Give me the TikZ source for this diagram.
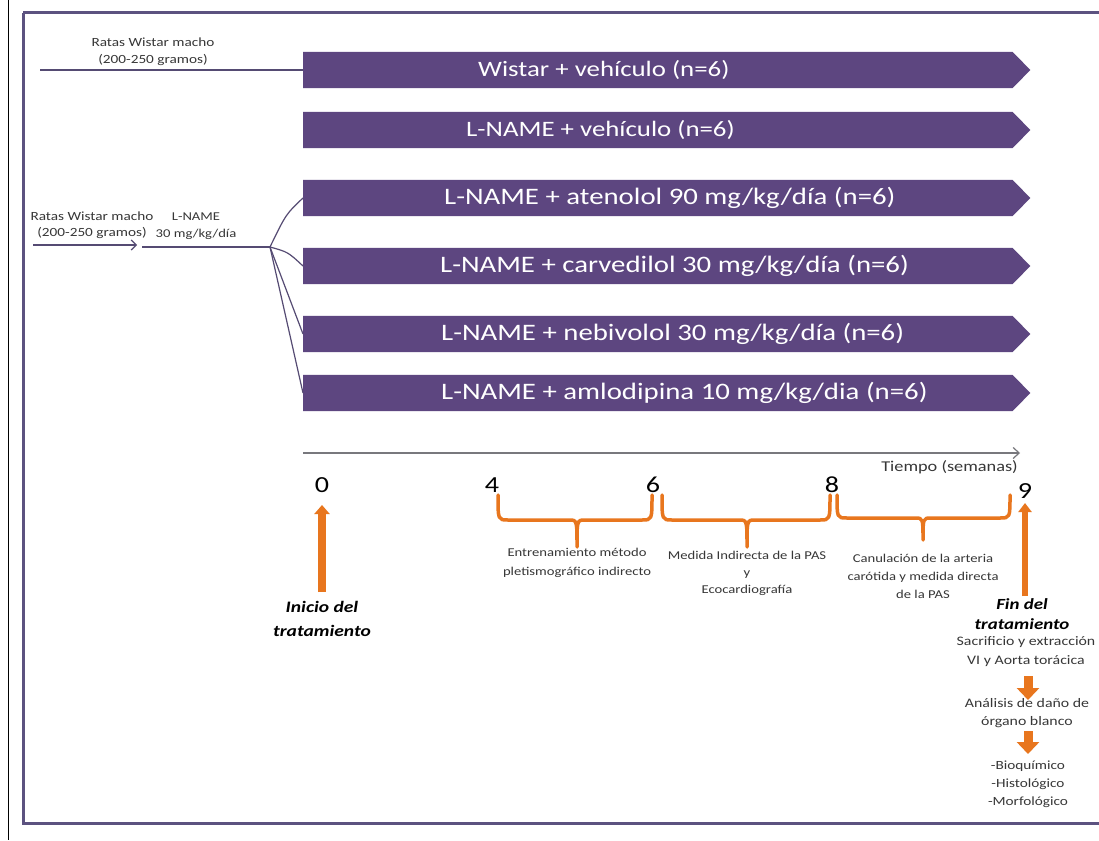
\documentclass[tikz,border=0pt]{standalone}
\usepackage{fontspec}
\setmainfont{Carlito}[FakeStretch=1.22]
\usetikzlibrary{arrows.meta,calc}
\definecolor{barpurple}{RGB}{93,70,128}
\definecolor{framepurple}{RGB}{92,82,128}
\definecolor{orng}{RGB}{232,118,30}
\definecolor{txtgray}{RGB}{55,55,55}
\definecolor{linegray}{RGB}{85,75,115}
\definecolor{axisgray}{RGB}{120,120,125}
\newcommand\obrace[6]{\draw[orng, line width=3.5pt, line join=round, line cap=round] (#1,#4) .. controls (#1,#5) .. (#1+10,#5) -- (#3-8,#5) .. controls (#3,#5) .. (#3,#6) .. controls (#3,#5) .. (#3+8,#5) -- (#2-10,#5) .. controls (#2,#5) .. (#2,#4);}
\begin{document}
\begin{tikzpicture}[x=1pt,y=-1pt,
  barbox/.style={minimum width=709pt, minimum height=36pt, inner sep=0pt, anchor=west},
  bartext/.style={text=white, font=\fontsize{22}{26}\selectfont, anchor=west, inner sep=0pt},
  bartextb/.style={text=white, font=\fontsize{23.6}{26}\selectfont, anchor=west, inner sep=0pt},
  small/.style={text=txtgray, align=center, inner sep=0pt},
  num/.style={text=black, font=\fontsize{23}{26}\selectfont, inner sep=0pt},
  bi/.style={text=black, align=center, inner sep=0pt, font=\fontsize{15.5}{20}\selectfont\bfseries\itshape},
  conn/.style={linegray, line width=1.2pt},
  uparrow/.style={orng, line width=8pt, -{Triangle[width=15pt,length=9pt]}},
  downarrow/.style={orng, line width=9pt, -{Triangle[width=22pt,length=12pt]}}
]
\useasboundingbox (0,0) rectangle (1099,840);
\fill[white] (0,0) rectangle (1099,840);
\clip (0,0) rectangle (1099,840);
% frame
\draw[black, line width=0.8pt] (8,0) -- (8,840);
\draw[framepurple, line width=3pt] (23,13) -- (1120,13) (23,13) -- (23,823) -- (1120,823);

% bars
\foreach \i/\y in {1/70,2/130,3/198,4/266,5/334,6/393} {
  \node[barbox] (bar\i) at (303,\y) {};
  \fill[barpurple] (bar\i.north west) -- (bar\i.north east) -- ($(bar\i.east)+(18,0)$) -- (bar\i.south east) -- (bar\i.south west) -- cycle;
}
\node[bartext] (tx1) at (478,70) {Wistar + vehículo (n=6)};
\node[bartext] (tx2) at (466,130) {L-NAME + vehículo (n=6)};
\node[bartextb] (tx3) at (444,198) {L-NAME + atenolol 90 mg/kg/día (n=6)};
\node[bartextb] (tx4) at (440,266) {L-NAME + carvedilol 30 mg/kg/día (n=6)};
\node[bartextb] (tx5) at (441,334) {L-NAME + nebivolol 30 mg/kg/día (n=6)};
\node[bartextb] (tx6) at (441,393) {L-NAME + amlodipina 10 mg/kg/dia (n=6)};

% top-left
\node[small, font=\fontsize{12.5}{17}\selectfont] (rw1) at (153,51.5) {Ratas Wistar macho\\(200-250 gramos)};
\coordinate (s1) at (40,70);
\draw[conn] (s1) -- (bar1.west);

% middle-left
\node[small, font=\fontsize{12.5}{16}\selectfont] (rw2) at (92,225) {Ratas Wistar macho\\(200-250 gramos)};
\coordinate (s2) at (33,245);
\coordinate (e2) at (137,245);
\draw[conn, -{Straight Barb[length=5pt,width=10pt]}] (s2) -- (e2);
\node[small, font=\fontsize{12}{17}\selectfont] (ln) at (196,226) {L-NAME\\30 mg/kg/día};
\coordinate (ls) at (142,247);
\coordinate (jn) at (270,247);
\draw[conn] (ls) -- (jn);
\draw[conn] (jn) .. controls (286,214) .. (bar3.west);
\draw[conn] (jn) .. controls (288,252) .. (bar4.west);
\draw[conn] (jn) -- (bar5.west);
\draw[conn] (jn) -- (bar6.west);

% time axis
\coordinate (ax0) at (303,453);
\coordinate (ax1) at (1020,453);
\draw[axisgray, line width=1.2pt, -{Straight Barb[length=6pt,width=11pt]}] (ax0) -- (ax1);
\node[text=txtgray, font=\fontsize{15}{18}\selectfont, anchor=east, inner sep=0pt] (tiempo) at (1018,467) {Tiempo (semanas)};

\node[num] (n0) at (322,485) {0};
\node[num] (n4) at (492,485) {4};
\node[num] (n6) at (653,485) {6};
\node[num] (n8) at (832,485) {8};
\node[num] (n9) at (1025,491) {9};

% braces
\obrace{498}{652}{577}{495}{520}{547}
\obrace{662}{830}{747}{495}{520}{547}
\obrace{837}{1010}{923}{495}{518}{540}

\node[small, font=\fontsize{12}{19}\selectfont] (b1t) at (577,562.5) {Entrenamiento método\\pletismográfico indirecto};
\node[small, font=\fontsize{12}{17}\selectfont] (b2t) at (747,573) {Medida Indirecta de la PAS\\y\\Ecocardiografía};
\node[small, font=\fontsize{12}{18}\selectfont] (b3t) at (923,576) {Canulación de la arteria\\carótida y medida directa\\de la PAS};

% start arrow
\node[bi, font=\fontsize{16}{24}\selectfont\bfseries\itshape] (ini) at (322,619) {Inicio del\\tratamiento};
\coordinate (a0s) at (322,592);
\coordinate (a0e) at (322,505);
\draw[uparrow] (a0s) -- (a0e);

% end arrow
\coordinate (a9s) at (1025,596);
\coordinate (a9e) at (1025,503);
\draw[uparrow, line width=6.5pt, -{Triangle[width=13pt,length=9pt]}] (a9s) -- (a9e);
\node[bi] (fin) at (1022,614) {Fin del\\tratamiento};
\node[small, font=\fontsize{13}{19}\selectfont] (sac) at (1026,651.5) {Sacrificio y extracción\\VI y Aorta torácica};
\coordinate (d1s) at (1028,676);
\coordinate (d1e) at (1028,700);
\draw[downarrow] (d1s) -- (d1e);
\node[small, font=\fontsize{13}{18}\selectfont] (ana) at (1027,713) {Análisis de daño de\\órgano blanco};
\coordinate (d2s) at (1028,731);
\coordinate (d2e) at (1028,754);
\draw[downarrow] (d2s) -- (d2e);
\node[small, font=\fontsize{12.5}{18}\selectfont] (bio) at (1028,784) {-Bioquímico\\-Histológico\\-Morfológico};
\end{tikzpicture}
\end{document}
